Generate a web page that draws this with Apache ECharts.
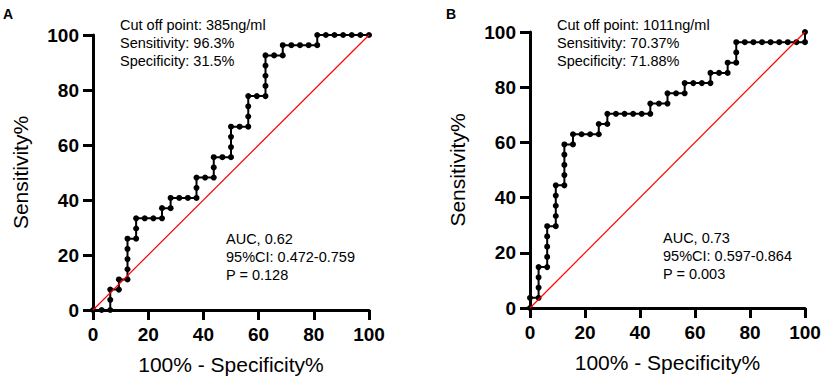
<!DOCTYPE html>
<html>
<head>
<meta charset="utf-8">
<script src="https://cdn.jsdelivr.net/npm/echarts@6/dist/echarts.min.js"></script>
<style>
  html, body { margin: 0; padding: 0; background: #fff; }
  #chart { width: 829px; height: 389px; }
</style>
</head>
<body>
<div id="chart"></div>
<script>
// ROC curve A: 100% - specificity (x) vs sensitivity (y)
const rocAx = [0, 3.125, 6.25, 6.25, 6.25, 9.375, 9.375, 12.5, 12.5, 12.5, 12.5, 12.5,
  15.625, 15.625, 15.625, 18.75, 21.875, 25, 25, 28.125, 28.125, 31.25, 34.375, 37.5,
  37.5, 37.5, 40.625, 43.75, 43.75, 43.75, 46.875, 50, 50, 50, 50, 53.125, 56.25, 56.25,
  56.25, 56.25, 59.375, 62.5, 62.5, 62.5, 62.5, 62.5, 65.625, 68.75, 68.75, 71.875, 75,
  78.125, 81.25, 81.25, 84.375, 87.5, 90.625, 93.75, 96.875, 100]
const rocAy = [0, 0, 0, 3.70, 7.41, 7.41, 11.11, 11.11, 14.81, 18.52, 22.22, 25.93,
  25.93, 29.63, 33.33, 33.33, 33.33, 33.33, 37.04, 37.04, 40.74, 40.74, 40.74, 40.74,
  44.44, 48.15, 48.15, 48.15, 51.85, 55.56, 55.56, 55.56, 59.26, 62.96, 66.67, 66.67, 66.67, 70.37,
  74.07, 77.78, 77.78, 77.78, 81.48, 85.19, 88.89, 92.59, 92.59, 92.59, 96.30, 96.30, 96.30,
  96.30, 96.30, 100, 100, 100, 100, 100, 100, 100]

// ROC curve B
const rocBx = [0, 0, 3.125, 3.125, 3.125, 3.125, 6.25, 6.25, 6.25, 6.25, 6.25, 9.375,
  9.375, 9.375, 9.375, 9.375, 12.5, 12.5, 12.5, 12.5, 12.5, 15.625, 15.625, 18.75, 21.875,
  25, 25, 28.125, 28.125, 31.25, 34.375, 37.5, 40.625, 43.75, 43.75, 46.875, 50, 50,
  53.125, 56.25, 56.25, 59.375, 62.5, 65.625, 65.625, 68.75, 71.875, 71.875, 75, 75, 75,
  78.125, 81.25, 84.375, 87.5, 90.625, 93.75, 96.875, 100, 100]
const rocBy = [0, 3.70, 3.70, 7.41, 11.11, 14.81, 14.81, 18.52, 22.22, 25.93, 29.63, 29.63,
  33.33, 37.04, 40.74, 44.44, 44.44, 48.15, 51.85, 55.56, 59.26, 59.26, 62.96, 62.96, 62.96,
  62.96, 66.67, 66.67, 70.37, 70.37, 70.37, 70.37, 70.37, 70.37, 74.07, 74.07, 74.07, 77.78,
  77.78, 77.78, 81.48, 81.48, 81.48, 81.48, 85.19, 85.19, 85.19, 88.89, 88.89, 92.59, 96.30,
  96.30, 96.30, 96.30, 96.30, 96.30, 96.30, 96.30, 96.30, 100]

const refLine = [[0, 0], [100, 100]]

const notesTopA = ['Cut off point: 385ng/ml', 'Sensitivity: 96.3%', 'Specificity: 31.5%']
const notesBotA = ['AUC, 0.62', '95%CI: 0.472-0.759', 'P = 0.128']
const notesTopB = ['Cut off point: 1011ng/ml', 'Sensitivity: 70.37%', 'Specificity: 71.88%']
const notesBotB = ['AUC, 0.73', '95%CI: 0.597-0.864', 'P = 0.003']
const panelLabels = ['A', 'B']

const xName = '100% - Specificity%'
const yName = 'Sensitivity%'
const FONT = '"Liberation Sans", Arial, sans-serif'

const zip = (xs, ys) => xs.map((x, i) => [x, ys[i]])

function axis(idx, isX) {
  return {
    type: 'value',
    gridIndex: idx,
    min: 0,
    max: 100,
    interval: 20,
    name: isX ? xName : yName,
    nameLocation: 'middle',
    nameGap: isX ? 44 : 62,
    nameTextStyle: { fontFamily: FONT, fontSize: 21, color: '#000' },
    axisLine: { show: true, lineStyle: { color: '#000', width: 3 } },
    axisTick: { show: true, length: 10, lineStyle: { color: '#000', width: 3 } },
    axisLabel: {
      margin: isX ? 15 : 14,
      fontFamily: FONT, fontSize: 19, fontWeight: 'bold', color: '#000',
    },
    splitLine: { show: false },
  }
}

function roc(idx, data) {
  return {
    type: 'line',
    xAxisIndex: idx,
    yAxisIndex: idx,
    data,
    symbol: 'circle',
    symbolSize: 6,
    clip: false,
    itemStyle: { color: '#000' },
    lineStyle: { color: '#000', width: 2 },
    z: 3,
  }
}

// chance diagonal
function ref(idx) {
  return {
    type: 'line',
    xAxisIndex: idx,
    yAxisIndex: idx,
    data: refLine,
    symbol: 'none',
    clip: false,
    lineStyle: { color: '#ff0000', width: 1.2 },
    z: 4,
  }
}

function notes(lines, left, top) {
  return lines.map((t, i) => ({
    type: 'text',
    left,
    top: top + i * 18,
    style: { text: t, font: '14.5px ' + FONT, fill: '#000' },
  }))
}

const chart = echarts.init(document.getElementById('chart'), null, { renderer: 'svg' })
chart.setOption({
  animation: false,
  backgroundColor: '#fff',
  grid: [
    { left: 93, top: 35, width: 276, height: 275 },
    { left: 530, top: 32, width: 275, height: 276 },
  ],
  xAxis: [axis(0, true), axis(1, true)],
  yAxis: [axis(0, false), axis(1, false)],
  series: [roc(0, zip(rocAx, rocAy)), ref(0), roc(1, zip(rocBx, rocBy)), ref(1)],
  graphic: [
    { type: 'text', left: 3, top: 7, style: { text: panelLabels[0], font: 'bold 14px ' + FONT, fill: '#000' } },
    { type: 'text', left: 446, top: 7, style: { text: panelLabels[1], font: 'bold 14px ' + FONT, fill: '#000' } },
    ...notes(notesTopA, 120, 17),
    ...notes(notesBotA, 226, 231),
    ...notes(notesTopB, 557, 17),
    ...notes(notesBotB, 663, 230),
  ],
})
</script>
</body>
</html>
